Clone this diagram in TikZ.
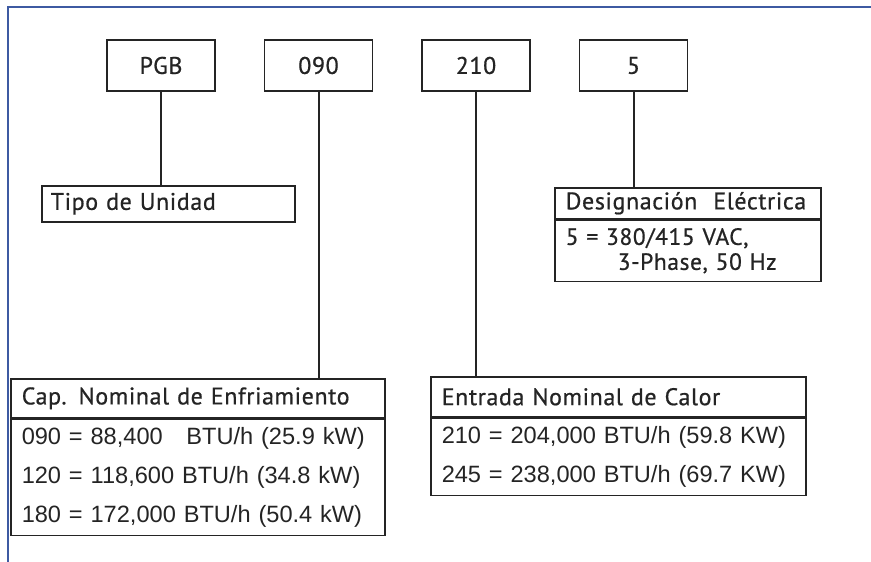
\documentclass[tikz,border=0pt]{standalone}
\usepackage{fontspec}
\setmainfont{Liberation Sans}
\newfontfamily\hdrfont{PT Sans}[LetterSpace=2.5,FakeBold=0.7]
\usetikzlibrary{positioning}
\definecolor{frameblue}{RGB}{62,90,162}
\definecolor{ink}{RGB}{36,36,36}

\begin{document}
\begin{tikzpicture}[x=1pt,y=-1pt,node distance=48pt,line width=1.5pt,draw=ink,text=ink,
 code node/.style={rectangle,draw,minimum width=108pt,minimum height=51pt,inner sep=0pt,
   font=\hdrfont\fontsize{24}{28}\selectfont},
 head node/.style={rectangle,draw,anchor=north west,inner xsep=11pt,inner ysep=0pt,align=left,
   font=\hdrfont\fontsize{24}{28}\selectfont},
 list node/.style={rectangle,draw,anchor=north west,inner xsep=11pt,align=left,
   font=\fontsize{23.6}{38.7}\selectfont}]
  \useasboundingbox (0,0) rectangle (871,562);

  % frame
  \coordinate (fa) at (8,562);
  \coordinate (fb) at (8,7);
  \coordinate (fc) at (871,7);
  \draw[frameblue,line width=2.2pt] (fa) -- (fb) -- (fc);

  % code boxes
  \node[code node] (PGB) at (161,65.5) {PGB};
  \node[code node] (cap code) [right=of PGB] {090};
  \node[code node] (heat code) [right=of cap code] {210};
  \node[code node] (volt code) [right=of heat code] {5};

  % legend boxes
  \node[head node,minimum height=36pt,inner xsep=9pt,text width=235pt] (unit) at (41,185) {Tipo de Unidad};

  \node[head node,text width=244pt,minimum height=31pt] (volt) at (554,187) {Designación\ \ Eléctrica};
  \node[list node,text width=244pt,minimum height=61pt,inner ysep=2pt,
    font=\hdrfont\fontsize{23.5}{25}\selectfont] (volt list) at (volt.south west)
    {5 = 380/415 VAC,\\\hspace*{52pt}3-Phase, 50 Hz};

  \node[head node,text width=352pt,minimum height=39pt] (cap) at (10,378) {Cap. Nominal de Enfriamiento};
  \node[list node,text width=352pt,minimum height=116pt] (cap list) at (cap.south west)
    {090 = 88,400\ \ \ BTU/h (25.9 kW)\\120 = 118,600 BTU/h (34.8 kW)\\180 = 172,000 BTU/h (50.4 kW)};

  \node[head node,text width=353pt,minimum height=40pt] (heat) at (430,376) {Entrada Nominal de Calor};
  \node[list node,text width=353pt,minimum height=77pt] (heat list) at (heat.south west)
    {210 = 204,000 BTU/h (59.8 KW)\\245 = 238,000 BTU/h (69.7 KW)};

  % connectors
  \foreach \s/\t in {PGB/unit, cap code/cap, heat code/heat, volt code/volt} {
   \draw[line width=2pt] (\s.south) -- (\s.south |- \t.north);}
\end{tikzpicture}
\end{document}
